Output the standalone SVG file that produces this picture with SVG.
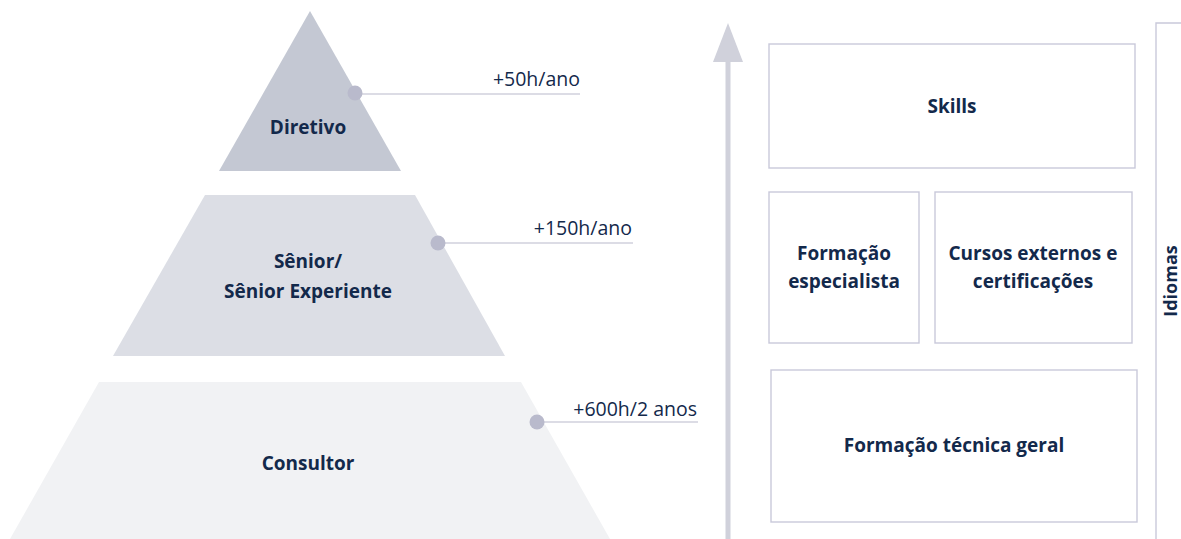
<svg xmlns="http://www.w3.org/2000/svg" width="1181" height="539" viewBox="0 0 1181 539">
<style>
.lbl{font-family:"Open Sans","Noto Sans","Liberation Sans",sans-serif;font-weight:700;font-size:19px;fill:#13294b;text-anchor:middle}
.hrs{font-family:"Open Sans","Noto Sans","Liberation Sans",sans-serif;font-weight:400;font-size:19.5px;fill:#13294b;text-anchor:end}
.lead{stroke:#b9bacc;stroke-width:1.2;fill:none}
.dot{fill:#b9bacc}
.box{fill:#ffffff;stroke:#c9c9da;stroke-width:1.4}
</style>
<rect width="1181" height="539" fill="#ffffff"/>
<g id="diretivo">
<polygon points="310,11 401,171 219,171" fill="#c4c8d3"/>
<text class="lbl" x="308" y="134">Diretivo</text>
</g>
<g id="senior">
<polygon points="205,195 415,195 505,356 113,356" fill="#dcdee5"/>
<text class="lbl" x="308" y="268">Sênior/</text>
<text class="lbl" x="308" y="298">Sênior Experiente</text>
</g>
<g id="consultor">
<polygon points="99,382 521,382 610,539 10,539" fill="#f1f2f4"/>
<text class="lbl" x="308" y="470">Consultor</text>
</g>
<g id="connectors">
<line class="lead" x1="355" y1="94" x2="580" y2="94"/>
<circle class="dot" cx="355" cy="93" r="7.5"/>
<text class="hrs" x="580" y="86">+50h/ano</text>
<line class="lead" x1="438" y1="243" x2="633" y2="243"/>
<circle class="dot" cx="438" cy="243" r="7.5"/>
<text class="hrs" x="632" y="235">+150h/ano</text>
<line class="lead" x1="537" y1="422" x2="698" y2="422"/>
<circle class="dot" cx="537" cy="422" r="7.5"/>
<text class="hrs" x="697" y="416">+600h/2 anos</text>
<rect x="725.5" y="60" width="5" height="479" fill="#d0d1db"/>
<polygon points="728,23 743,62 713,62" fill="#d0d1db"/>
<polyline points="1181,23 1156,23 1156,539" fill="none" stroke="#c9c9da" stroke-width="1.4"/>
</g>
<g id="skills">
<rect class="box" x="769" y="44" width="366" height="124"/>
<text class="lbl" x="952" y="113">Skills</text>
</g>
<g id="formacao-especialista">
<rect class="box" x="769" y="192" width="150" height="151"/>
<text class="lbl" x="844" y="260">Formação</text>
<text class="lbl" x="844" y="288">especialista</text>
</g>
<g id="cursos-externos">
<rect class="box" x="935" y="192" width="197" height="151"/>
<text class="lbl" x="1033" y="260">Cursos externos e</text>
<text class="lbl" x="1033" y="288">certificações</text>
</g>
<g id="formacao-tecnica">
<rect class="box" x="771" y="370" width="366" height="152"/>
<text class="lbl" x="954" y="452">Formação técnica geral</text>
</g>
<g id="idiomas">
<text class="lbl" style="font-size:18px" transform="translate(1177,281) rotate(-90)">Idiomas</text>
</g>
</svg>
